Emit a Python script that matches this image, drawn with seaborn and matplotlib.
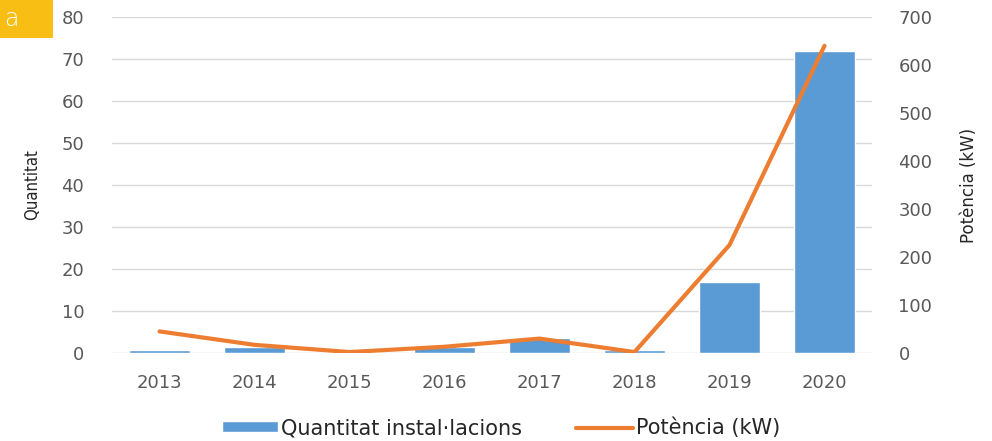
import matplotlib
matplotlib.use("Agg")
import matplotlib.pyplot as plt
import seaborn as sns
import pandas as pd
from matplotlib.patches import Patch
from matplotlib.lines import Line2D

sns.set_style("white")

years = ["2013", "2014", "2015", "2016", "2017", "2018", "2019", "2020"]
installations = [0.7, 1.5, 0.2, 1.5, 3.5, 0.6, 17, 72]
power_kw = [45, 17, 2, 13, 30, 2, 225, 640]

BLUE = "#5B9BD5"
ORANGE = "#ED7D31"
GRID = "#D9D9D9"
TEXT = "#595959"

df = pd.DataFrame({"year": years, "count": installations, "power": power_kw})

fig = plt.figure(figsize=(9.92, 4.41), dpi=100)
ax = fig.add_axes([112 / 992, 88 / 441, 760 / 992, 336 / 441])

sns.barplot(data=df, x="year", y="count", color=BLUE, width=0.65,
            saturation=1, ax=ax)
ax.set_ylim(0, 80)
ax.set_yticks(range(0, 81, 10))
ax.yaxis.grid(True, color=GRID, linewidth=1)
ax.set_axisbelow(True)
for s in ax.spines.values():
    s.set_visible(False)
ax.tick_params(axis="y", length=0, colors=TEXT, labelsize=13, pad=20)
ax.tick_params(axis="x", length=0, colors=TEXT, labelsize=13, pad=15)
ax.set_xlabel("")
ax.set_ylabel("")
fig.text(32 / 992, 1 - 185 / 441, "Quantitat", rotation=90, fontsize=12,
         color="#262626", ha="center", va="center", fontstretch="condensed")

ax2 = ax.twinx()
sns.lineplot(x=range(len(years)), y=power_kw, color=ORANGE, linewidth=3,
             ax=ax2)
ax2.set_ylim(0, 700)
ax2.set_yticks(range(0, 701, 100))
for s in ax2.spines.values():
    s.set_visible(False)
ax2.tick_params(axis="y", length=0, colors=TEXT, labelsize=13, pad=19)
ax2.set_ylabel("")
fig.text(969 / 992, 1 - 185 / 441, "Potència (kW)", rotation=90, fontsize=12,
         color="#262626", ha="center", va="center")
ax.set_xlim(-0.5, len(years) - 0.5)

handles = [Patch(facecolor=BLUE, label="Quantitat instal·lacions"),
           Line2D([0], [0], color=ORANGE, linewidth=3, label="Potència (kW)")]
fig.legend(handles=handles, loc="center", bbox_to_anchor=(0.505, 13 / 441),
           ncol=2, frameon=False, fontsize=15, handlelength=2.7,
           handleheight=0.45, handletextpad=0.15, columnspacing=2.6,
           labelcolor="#262626")

# corner tag
fig.patches.append(plt.Rectangle((0, 1 - 38 / 441), 53 / 992, 38 / 441,
                                 transform=fig.transFigure,
                                 facecolor="#F8BE14", edgecolor="none"))
fig.text(4 / 992, 1 - 19 / 441, "a", color="white", fontsize=17,
         va="center", ha="left", fontweight="light")

fig.savefig("out.png", dpi=100, facecolor="white")
